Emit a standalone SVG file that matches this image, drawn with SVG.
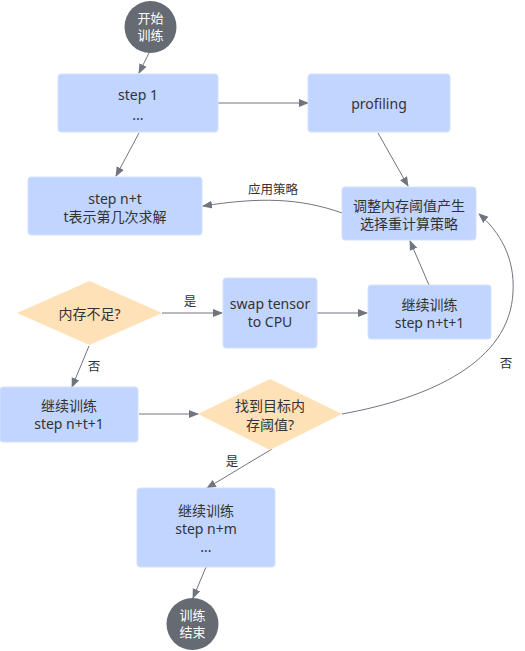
<svg xmlns="http://www.w3.org/2000/svg" width="525" height="651" viewBox="0 0 525 651">
<defs>
<style>
text{font-family:"Noto Sans","Noto Sans CJK SC",sans-serif;font-size:14px;fill:#333;text-anchor:middle;dominant-baseline:central}
.box{fill:#c2d5ff;stroke:#d3e0ff;stroke-width:1}
.dia{fill:#ffe1b8}
.circ{fill:#666a72}
.ct{fill:#fff;font-size:13px}
.lbl{font-size:12.5px}
.edge{fill:none;stroke:#70757d;stroke-width:1}
</style>
<marker id="ah" viewBox="0 0 10 10" refX="9" refY="5" markerWidth="10" markerHeight="10" markerUnits="userSpaceOnUse" orient="auto">
<path d="M0,1 L10,5 L0,9 z" fill="#70757d"/>
</marker>
</defs>
<g id="connectors">
<path class="edge" d="M149,53 L139,73" marker-end="url(#ah)"/>
<path class="edge" d="M218,103 L308,103" marker-end="url(#ah)"/>
<path class="edge" d="M139,133 L116,176" marker-end="url(#ah)"/>
<path class="edge" d="M378,133 L408,186" marker-end="url(#ah)"/>
<path class="edge" d="M342,213 C300,198 260,197 203,206" marker-end="url(#ah)"/>
<text class="lbl" x="273" y="189">应用策略</text>
<path class="edge" d="M429,285 L410,241" marker-end="url(#ah)"/>
<path class="edge" d="M162,313 L222,313" marker-end="url(#ah)"/>
<text class="lbl" x="190" y="301">是</text>
<path class="edge" d="M317,313 L367,313" marker-end="url(#ah)"/>
<path class="edge" d="M89,346 L72,387" marker-end="url(#ah)"/>
<text class="lbl" x="94" y="366">否</text>
<path class="edge" d="M139,414 L198,414" marker-end="url(#ah)"/>
<path class="edge" d="M342,414 C430,398 510,362 513,292 C515,258 500,232 479,214" marker-end="url(#ah)"/>
<text class="lbl" x="506" y="363">否</text>
<path class="edge" d="M272,449 L207,488" marker-end="url(#ah)"/>
<text class="lbl" x="232" y="461">是</text>
<path class="edge" d="M206,567 L193,598" marker-end="url(#ah)"/>
</g>
<g id="start">
<circle class="circ" cx="150.5" cy="27" r="26"/>
<text class="ct" x="150.5" y="18">开始</text>
<text class="ct" x="150.5" y="35">训练</text>
</g>
<g id="step1">
<rect class="box" x="58" y="74" width="160" height="58" rx="3"/>
<text x="138" y="94">step 1</text>
<text x="138" y="114">...</text>
</g>
<g id="profiling">
<rect class="box" x="308" y="74" width="142" height="58" rx="3"/>
<text x="379" y="103">profiling</text>
</g>
<g id="stepnt">
<rect class="box" x="28" y="177" width="174" height="58" rx="3"/>
<text x="115" y="198">step n+t</text>
<text x="115" y="216">t表示第几次求解</text>
</g>
<g id="adjust">
<rect class="box" x="342" y="187" width="134" height="53" rx="3"/>
<text x="409" y="205">调整内存阈值产生</text>
<text x="409" y="223">选择重计算策略</text>
</g>
<g id="memdia">
<polygon class="dia" points="17,313 89.5,281 162,313 89.5,345"/>
<text x="89.5" y="313">内存不足?</text>
</g>
<g id="swap">
<rect class="box" x="223" y="278" width="94" height="70" rx="3"/>
<text x="270" y="303">swap tensor</text>
<text x="270" y="321">to CPU</text>
</g>
<g id="cont1">
<rect class="box" x="368" y="285" width="123" height="54" rx="3"/>
<text x="429.5" y="304">继续训练</text>
<text x="429.5" y="322">step n+t+1</text>
</g>
<g id="cont2">
<rect class="box" x="0" y="387" width="138" height="55" rx="3"/>
<text x="69" y="405">继续训练</text>
<text x="69" y="423">step n+t+1</text>
</g>
<g id="finddia">
<polygon class="dia" points="198,414 270,379 342,414 270,450"/>
<text x="270" y="405">找到目标内</text>
<text x="270" y="424">存阈值?</text>
</g>
<g id="stepnm">
<rect class="box" x="137" y="488" width="138" height="79" rx="3"/>
<text x="206" y="510">继续训练</text>
<text x="206" y="528">step n+m</text>
<text x="206" y="546">...</text>
</g>
<g id="end">
<circle class="circ" cx="192.5" cy="624" r="26"/>
<text class="ct" x="192.5" y="615">训练</text>
<text class="ct" x="192.5" y="632">结束</text>
</g>
</svg>
